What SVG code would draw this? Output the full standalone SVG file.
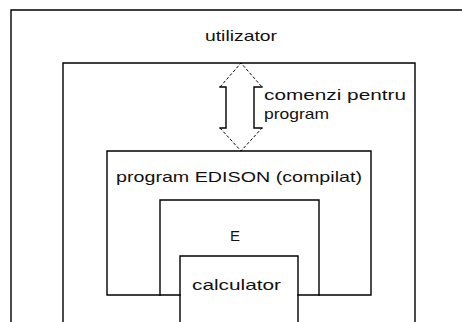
<svg xmlns="http://www.w3.org/2000/svg" width="462" height="322" viewBox="0 0 462 322">
  <style>
    .frame { fill: none; stroke: #000; stroke-width: 1.4; stroke-linecap: square; }
    .dash { fill: none; stroke: #000; stroke-width: 1; stroke-dasharray: 3 2; }
    .lbl { font-family: "Liberation Sans", Arial, sans-serif; font-size: 15px; fill: #111; }
  </style>
  <rect width="462" height="322" fill="#fff"/>

  <!-- user layer (open on right and bottom) -->
  <g id="utilizator">
    <path class="frame" d="M11 322 V10 H462"/>
    <text class="lbl" x="205" y="41" textLength="72" lengthAdjust="spacingAndGlyphs">utilizator</text>
  </g>

  <!-- operating layer (open at bottom) -->
  <g id="sistem">
    <path class="frame" d="M63 322 V63 H415 V322"/>
  </g>

  <!-- compiled program -->
  <g id="program">
    <path class="frame" d="M107 151 H371 V295 H319 M107 151 V295 H160"/>
    <text class="lbl" x="116" y="182" textLength="246" lengthAdjust="spacingAndGlyphs">program EDISON (compilat)</text>
  </g>

  <!-- layer E -->
  <g id="E">
    <path class="frame" d="M160 295 V200 H319 V295 M160 295 H180 M298 295 H319"/>
    <text class="lbl" x="230" y="241" font-size="16">E</text>
  </g>

  <!-- hardware -->
  <g id="calculator">
    <path class="frame" d="M180 322 V256 H298 V322"/>
    <text class="lbl" x="192" y="290" textLength="89" lengthAdjust="spacingAndGlyphs">calculator</text>
  </g>

  <!-- two-way command arrow -->
  <g id="connectors">
    <path class="frame" d="M220 87 H226 V128 H220 M262 87 H254 V128 H262"/>
    <path class="dash" d="M220 87 L241 63 L262 87 M220 128 L241 151 L262 128"/>
    <text class="lbl" x="264" y="100" textLength="142" lengthAdjust="spacingAndGlyphs">comenzi pentru</text>
    <text class="lbl" x="264" y="119" textLength="65" lengthAdjust="spacingAndGlyphs">program</text>
  </g>
</svg>
